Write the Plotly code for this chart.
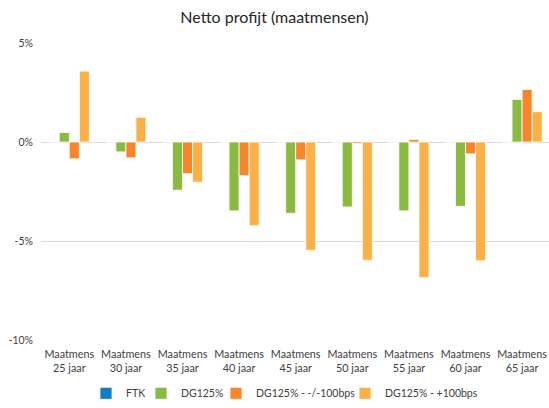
import plotly.graph_objects as go

categories = ["Maatmens<br>25 jaar", "Maatmens<br>30 jaar", "Maatmens<br>35 jaar",
              "Maatmens<br>40 jaar", "Maatmens<br>45 jaar", "Maatmens<br>50 jaar",
              "Maatmens<br>55 jaar", "Maatmens<br>60 jaar", "Maatmens<br>65 jaar"]
ftk = [0, 0, 0, 0, 0, 0, 0, 0, 0]
dg125 = [0.48, -0.5, -2.43, -3.48, -3.6, -3.28, -3.48, -3.25, 2.15]
dg125_min100 = [-0.85, -0.8, -1.6, -1.7, -0.9, -0.08, 0.13, -0.6, 2.65]
dg125_plus100 = [3.58, 1.25, -2.03, -4.23, -5.47, -5.97, -6.85, -6.0, 1.53]
series_names = ["FTK", "DG125%", "DG125% - -/-100bps", "DG125% - +100bps"]
colors = ["#0F7DC2", "#8ABA3F", "#F7862A", "#FCB048"]
tick_vals = [-10, -5, 0, 5]
tick_text = ["-10%", "-5%", "0%", "5%"]

W, H = 549, 408
L, T, R, B = 41, 43, 0, 64
plot_w = W - L - R
cat_px = 56.6

legend_ids = ["legend", "legend2", "legend3", "legend4"]
legend_left_x = [86, 141, 216, 345]  # page x of each legend box

fig = go.Figure()
for name, vals, col, lg in zip(series_names, [ftk, dg125, dg125_min100, dg125_plus100],
                               colors, legend_ids):
    fig.add_trace(go.Bar(x=categories, y=vals, name=name, legend=lg,
                         marker=dict(color=col, line=dict(color="rgba(255,255,255,0.8)", width=1))))

font = "Lato, Open Sans, sans-serif"
legend_y = (T + (H - T - B) - 398) / (H - T - B)
layout_legends = {}
for lg, lx in zip(legend_ids, legend_left_x):
    layout_legends[lg] = dict(orientation="h", x=(lx - L) / plot_w, xanchor="left",
                              y=legend_y, yanchor="middle",
                              font=dict(family=font, size=10.5, color="#404040"),
                              itemwidth=30, bgcolor="rgba(0,0,0,0)")

fig.update_layout(
    width=W, height=H,
    margin=dict(l=L, r=R, t=T, b=B),
    paper_bgcolor="white", plot_bgcolor="white",
    barmode="group", bargap=0.29, bargroupgap=0,
    title=dict(text="Netto profijt (maatmensen)", x=0.5, xanchor="center",
               y=1 - 17 / H, yanchor="middle",
               font=dict(family=font, size=16, color="#262626")),
    font=dict(family=font, size=10.5, color="#404040"),
    xaxis=dict(showgrid=False, showline=False, ticks="", tickfont=dict(size=10.8),
               tickangle=0, automargin=False, ticklabelstandoff=6,
               range=[-0.5, -0.5 + plot_w / cat_px]),
    yaxis=dict(range=[-10, 5], tickvals=tick_vals, ticktext=tick_text,
               showgrid=True, gridcolor="#D9D9D9", gridwidth=1,
               zeroline=True, zerolinecolor="#D9D9D9", zerolinewidth=1,
               tickfont=dict(size=10.5), ticks="", showline=False, automargin=False,
               ticklabelstandoff=7),
    showlegend=True,
    **layout_legends,
)

fig.write_html("out.html", config={"displayModeBar": False},
               post_script="document.body.style.margin='0';document.body.style.overflow='hidden';")
